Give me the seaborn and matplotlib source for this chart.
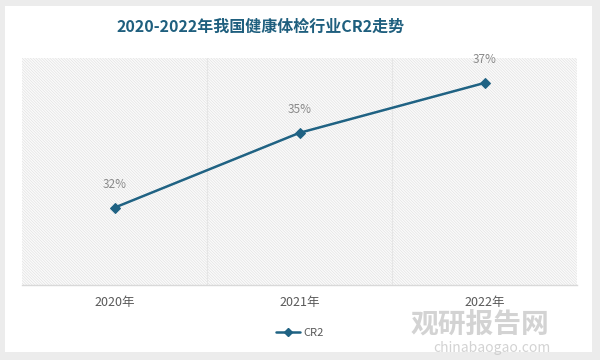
import matplotlib
matplotlib.use("Agg")
import matplotlib.pyplot as plt
from matplotlib.patches import Rectangle
from matplotlib.lines import Line2D
import seaborn as sns
import pandas as pd

# data
years = ["2020年", "2021年", "2022年"]
cr2 = [32, 35, 37]
labels = ["32%", "35%", "37%"]

sns.set_style("white")
plt.rcParams["font.family"] = ["Noto Sans CJK SC", "DejaVu Sans"]
plt.rcParams["hatch.linewidth"] = 0.4
plt.rcParams["hatch.color"] = "#dedede"

line_color = "#1f6283"
df = pd.DataFrame({"year": years, "cr2": cr2})

fig = plt.figure(figsize=(6, 3.6), dpi=100)
fig.patch.set_facecolor("#ececec")
# white card behind the chart
fig.patches.append(Rectangle((5 / 600, 8 / 360), 587 / 600, 346 / 360,
                             transform=fig.transFigure, facecolor="white",
                             edgecolor="none", zorder=-10))

ax = fig.add_axes([22 / 600, 75 / 360, 555 / 600, 227 / 360])
ax.set_facecolor("#fbfbfb")
ax.add_patch(Rectangle((0, 0), 1, 1, transform=ax.transAxes, facecolor="none",
                       edgecolor="#dedede", hatch="\\" * 12, linewidth=0, zorder=0))

sns.lineplot(data=df, x="year", y="cr2", ax=ax, color=line_color, marker="D",
             markersize=5.5, markeredgecolor=line_color, linewidth=1.8, zorder=3)

ax.set_xlim(-0.5, 2.5)
ax.set_ylim(28.9, 38)
for xv in [0.5, 1.5]:
    ax.axvline(xv, color="#e6e6e6", linewidth=0.8, zorder=1)

for i, (v, t) in enumerate(zip(cr2, labels)):
    ax.annotate(t, (i, v), xytext=(0, 12), textcoords="offset points",
                ha="center", va="bottom", fontsize=8.5, color="#8a8a8a")

ax.set_xlabel("")
ax.set_ylabel("")
ax.set_yticks([])
ax.tick_params(axis="x", length=0, pad=8, labelsize=9, labelcolor="#595959")
for s in ["top", "left", "right"]:
    ax.spines[s].set_visible(False)
ax.spines["bottom"].set_color("#d9d9d9")
ax.spines["bottom"].set_linewidth(1)

fig.text(261 / 600, 1 - 27 / 360, "2020-2022年我国健康体检行业CR2走势", ha="center",
         va="center", fontsize=11.5, fontweight="bold", color="#1f5f7e")

handle = Line2D([], [], color=line_color, marker="D", markersize=4, linewidth=1.8)
fig.legend([handle], ["CR2"], loc="center", bbox_to_anchor=(0.5, 1 - 333 / 360),
           frameon=False, fontsize=8, handlelength=2.2, handletextpad=0.3,
           labelcolor="#595959")

# watermark
fig.text(0.80, 1 - 325 / 360, "观研报告网", ha="center", va="center",
         fontsize=20, fontweight="bold", color="#c8c8c8", alpha=0.8)
fig.text(0.82, 1 - 348 / 360, "chinabaogao.com", ha="center", va="center",
         fontsize=10, color="#c8c8c8", alpha=0.8)

fig.savefig("out.png", dpi=100, facecolor=fig.get_facecolor())
